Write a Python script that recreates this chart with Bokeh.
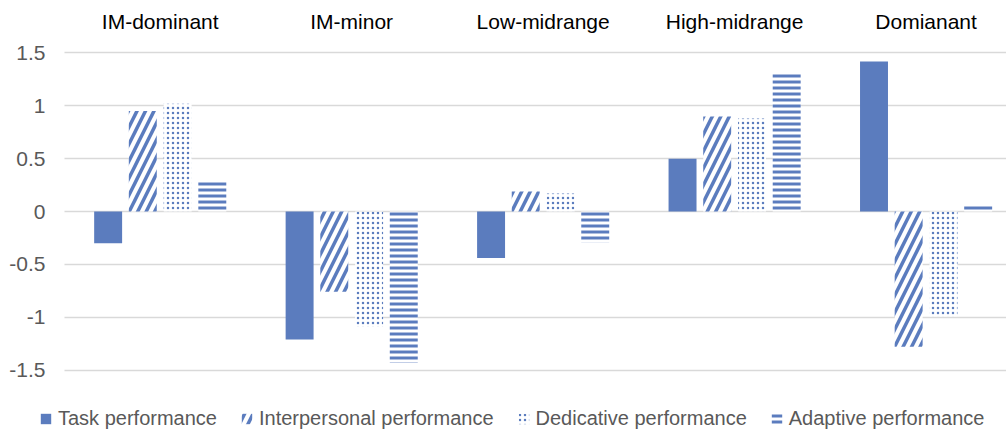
from bokeh.plotting import figure
from bokeh.models import ColumnDataSource, Range1d, FixedTicker, Legend, LegendItem
from bokeh.transform import dodge
from bokeh.embed import file_html
from bokeh.resources import INLINE

groups = ["IM-dominant", "IM-minor", "Low-midrange", "High-midrange", "Domianant"]
series = ["Task performance", "Interpersonal performance", "Dedicative performance", "Adaptive performance"]
task = [-0.30, -1.21, -0.44, 0.50, 1.42]
interpersonal = [0.95, -0.76, 0.19, 0.90, -1.28]
dedicative = [1.02, -1.09, 0.17, 0.88, -0.99]
adaptive = [0.29, -1.43, -0.29, 1.32, 0.06]
y_ticks = [-1.5, -1.0, -0.5, 0.0, 0.5, 1.0, 1.5]
y_tick_labels = ["-1.5", "-1", "-0.5", "0", "0.5", "1", "1.5"]

BLUE = "#5b7cbe"
FONT = "Liberation Sans"

src = ColumnDataSource(dict(
    x=[i + 0.5 for i in range(len(groups))],
    task=task, interpersonal=interpersonal, dedicative=dedicative, adaptive=adaptive,
))

styles = [
    dict(fill_color=BLUE, line_color=None),
    dict(fill_color="white", line_color=None, hatch_pattern="/",
         hatch_color=BLUE, hatch_scale=17, hatch_weight=3.5),
    dict(fill_color="white", line_color=None, hatch_pattern=".",
         hatch_color=BLUE, hatch_scale=5, hatch_weight=3),
    dict(fill_color="white", line_color=None, hatch_pattern="-",
         hatch_color=BLUE, hatch_scale=6, hatch_weight=3),
]
cols = ["task", "interpersonal", "dedicative", "adaptive"]
offsets = [-0.272, -0.091, 0.091, 0.272]

p = figure(width=1006, height=430, output_backend="svg", toolbar_location=None,
           x_range=Range1d(-0.1305, 4.92), y_range=Range1d(-2.072, 1.618),
           x_axis_location="above", min_border_left=39, min_border_top=40,
           min_border_right=0, min_border_bottom=0)
p.outline_line_color = None
p.background_fill_color = "white"
p.border_fill_color = "white"

W = 0.146
renderers = []
for c, off, st in zip(cols, offsets, styles):
    renderers.append(p.vbar(x=dodge("x", off), top=c, width=W, source=src, **st))

# top category axis
xa = p.xaxis[0]
xa.ticker = FixedTicker(ticks=[i + 0.5 for i in range(len(groups))])
xa.major_label_overrides = {i + 0.5: g for i, g in enumerate(groups)}
xa.axis_line_color = None
xa.major_tick_line_color = None
xa.minor_tick_line_color = None
xa.major_tick_out = 0
xa.major_label_standoff = 8
xa.major_label_text_font = FONT
xa.major_label_text_font_size = "21px"
xa.major_label_text_color = "#000000"

ya = p.yaxis[0]
ya.ticker = FixedTicker(ticks=y_ticks)
ya.major_label_overrides = {t: l for t, l in zip(y_ticks, y_tick_labels)}
ya.axis_line_color = None
ya.major_tick_line_color = None
ya.minor_tick_line_color = None
ya.major_tick_out = 0
ya.major_label_standoff = -6
ya.major_label_text_font = FONT
ya.major_label_text_font_size = "21px"
ya.major_label_text_color = "#595959"

p.xgrid.visible = False
p.ygrid.grid_line_color = "#d9d9d9"
p.ygrid.grid_line_width = 1.5
p.ygrid.cross_bounds = (0, 4.92)

legend = Legend(items=[LegendItem(label=n, renderers=[r]) for n, r in zip(series, renderers)],
                orientation="horizontal", location=(0, 0),
                glyph_width=13, glyph_height=13, label_standoff=6, spacing=23,
                padding=4, margin=0, border_line_color=None,
                background_fill_alpha=0,
                label_text_font=FONT, label_text_font_size="20px",
                label_text_color="#595959")
p.add_layout(legend, "center")

open("out.html", "w").write(file_html(p, INLINE))
